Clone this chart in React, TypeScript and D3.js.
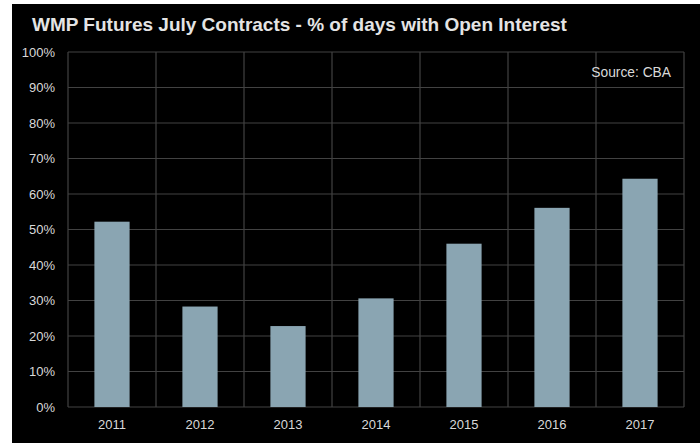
import * as d3 from 'd3';
import React from 'react';

const years = ['2011', '2012', '2013', '2014', '2015', '2016', '2017'];
const openInterestPct = [52.2, 28.3, 22.8, 30.6, 46.0, 56.1, 64.3];
const yTicks = [0, 10, 20, 30, 40, 50, 60, 70, 80, 90, 100];

const WIDTH = 700;
const HEIGHT = 443;

export default function App() {
    const margin = { left: 68, right: 700 - 684, top: 52, bottom: 443 - 407 };

    const x = d3
        .scaleBand<string>()
        .domain(years)
        .range([margin.left, WIDTH - margin.right])
        .paddingInner(0.6)
        .paddingOuter(0.3);

    // band edges for the vertical grid (one line per category boundary)
    const step = x.step();
    const xEdges = d3.range(years.length + 1).map((i) => margin.left + i * step);

    const y = d3
        .scaleLinear()
        .domain([0, 100])
        .range([HEIGHT - margin.bottom, margin.top]);

    const gridColor = '#424242';
    const textColor = '#d9d9d9';
    const font = 'Liberation Sans, Arial, sans-serif';

    return (
        <>
            <style>{'body{margin:0}'}</style>
            <svg width={WIDTH} height={HEIGHT} style={{ display: 'block', background: '#fff' }}>
                <rect x={12} y={4} width={WIDTH - 12} height={HEIGHT - 4} fill="#000" />

                <text x={32} y={31} fontFamily={font} fontSize={19} fontWeight={700} fill="#e4e4e4">
                    WMP Futures July Contracts - % of days with Open Interest
                </text>

                {yTicks.map((t) => (
                    <g key={t}>
                        <line
                            x1={margin.left}
                            x2={WIDTH - margin.right}
                            y1={y(t)}
                            y2={y(t)}
                            stroke={gridColor}
                            strokeWidth={1.2}
                        />
                        <text
                            x={55}
                            y={y(t)}
                            dy="0.36em"
                            textAnchor="end"
                            fontFamily={font}
                            fontSize={13}
                            fill={textColor}
                        >
                            {t}%
                        </text>
                    </g>
                ))}

                {xEdges.map((ex, i) => (
                    <line
                        key={i}
                        x1={ex}
                        x2={ex}
                        y1={y(100)}
                        y2={y(0)}
                        stroke={gridColor}
                        strokeWidth={1.2}
                    />
                ))}

                {years.map((yr, i) => (
                    <rect
                        key={yr}
                        x={x(yr) ?? 0}
                        y={y(openInterestPct[i])}
                        width={x.bandwidth()}
                        height={y(0) - y(openInterestPct[i])}
                        fill="#8aa5b2"
                    />
                ))}

                {years.map((yr) => (
                    <text
                        key={yr}
                        x={(x(yr) ?? 0) + x.bandwidth() / 2}
                        y={429}
                        textAnchor="middle"
                        fontFamily={font}
                        fontSize={13}
                        fill={textColor}
                    >
                        {yr}
                    </text>
                ))}

                <text x={671} y={77} textAnchor="end" fontFamily={font} fontSize={13.8} fill={textColor}>
                    Source: CBA
                </text>
            </svg>
        </>
    );
}
